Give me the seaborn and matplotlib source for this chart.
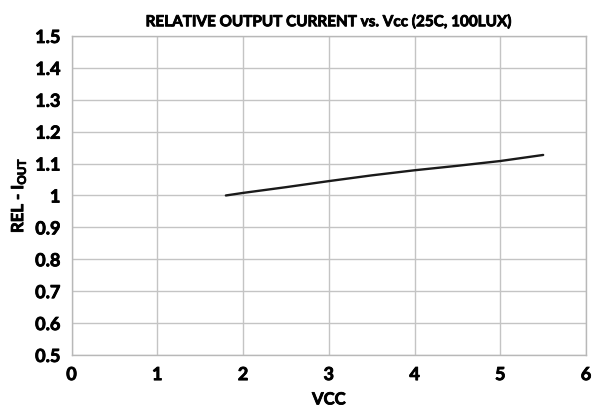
import matplotlib
matplotlib.use('Agg')
import matplotlib.pyplot as plt
import matplotlib.patheffects as pe
import seaborn as sns
import pandas as pd

# curve
vcc = [1.8, 2.0, 2.5, 3.0, 3.5, 4.0, 4.5, 5.0, 5.5]
rel_iout = [1.0, 1.008, 1.026, 1.045, 1.063, 1.079, 1.093, 1.108, 1.127]

x_ticks = [0, 1, 2, 3, 4, 5, 6]
y_ticks = [0.5, 0.6, 0.7, 0.8, 0.9, 1.0, 1.1, 1.2, 1.3, 1.4, 1.5]
y_labels = ['0.5', '0.6', '0.7', '0.8', '0.9', '1', '1.1', '1.2', '1.3',
            '1.4', '1.5']

FONT = ['Lato', 'Roboto', 'DejaVu Sans']


def main():
    sns.set_style('whitegrid')
    plt.rcParams['font.family'] = FONT
    plt.rcParams['font.weight'] = 'bold'
    plt.rcParams['text.color'] = 'black'
    plt.rcParams['mathtext.fontset'] = 'custom'
    plt.rcParams['mathtext.bf'] = 'Lato:bold'
    plt.rcParams['mathtext.rm'] = 'Lato:bold'

    heavy = [pe.withStroke(linewidth=0.6, foreground='black')]

    df = pd.DataFrame({'vcc': vcc, 'rel': rel_iout})

    fig = plt.figure(figsize=(5.98, 4.11), dpi=100)
    ax = fig.add_axes([0.1196, 0.1363, 0.8604, 0.7762])
    sns.lineplot(data=df, x='vcc', y='rel', color='#1a1a1a', linewidth=1.7,
                 ax=ax)

    ax.set_xlim(0, 6)
    ax.set_ylim(0.5, 1.5)
    ax.set_xticks(x_ticks)
    ax.set_yticks(y_ticks)
    ax.set_yticklabels(y_labels)
    ax.tick_params(axis='both', labelsize=13, length=0, pad=8,
                   colors='black')
    for lab in ax.get_xticklabels() + ax.get_yticklabels():
        lab.set_fontweight('bold')
        lab.set_path_effects(heavy)
    ax.grid(True, color='#c4c4c4', linewidth=1)
    for sp in ax.spines.values():
        sp.set_color('#b8b8b8')
        sp.set_linewidth(1)

    t = ax.set_title('RELATIVE OUTPUT CURRENT vs. Vcc (25C, 100LUX)',
                     fontsize=11, fontweight='bold', pad=7, color='black')
    xl = ax.set_xlabel('VCC', fontsize=12, fontweight='bold', labelpad=6,
                       color='black')
    yl = ax.set_ylabel('REL - I$_{\\mathbf{OUT}}$', fontsize=12,
                       fontweight='bold', labelpad=5, color='black')
    for txt in (t, xl, yl):
        txt.set_path_effects(heavy)

    fig.savefig('out.png', dpi=100)


if __name__ == '__main__':
    main()
